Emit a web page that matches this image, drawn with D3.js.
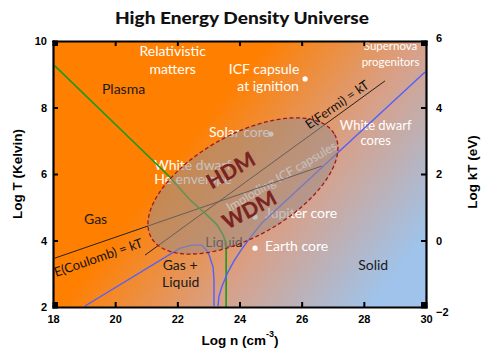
<!DOCTYPE html>
<html><head><meta charset="utf-8">
<script src="https://cdn.jsdelivr.net/npm/d3@7"></script>
<style>
body{margin:0;background:#fff;}
svg{display:block;}
.lab{font-family:Lato,"Open Sans",sans-serif;}
.tick text{font-family:"Liberation Sans",Arial,sans-serif;font-weight:bold;font-size:11px;fill:#000;}
</style></head>
<body><svg id="c" width="500" height="364"></svg>
<script>
// ---- data (log n [cm^-3], log T [K]) ----
const xTicks = [18,20,22,24,26,28,30];
const yTicks = [2,4,6,8,10];
const kTTicks = [-2,0,2,4,6];
const plasmaLine = [[18.06,9.25],[21.76,5.91],[21.86,5.80],[22.41,5.22],[22.95,4.77],[23.28,4.47],[23.47,4.17],[23.57,3.92],[23.57,2.0]];
const gasLiquidLine = [[19.03,2.03],[22.09,3.77],[22.47,3.86],[22.79,3.86],[22.99,3.65],[23.15,3.20],[23.18,2.81],[23.18,2.03]];
const meltingLine = [[23.31,2.03],[23.34,2.33],[23.44,2.63],[23.63,3.05],[23.82,3.38],[24.05,3.71],[24.34,4.08],[24.72,4.53],[29.97,9.07]];
const coulombLine = [[18.06,3.47],[26.65,6.24]];
const fermiLine = [[20.96,3.56],[28.68,8.80]];
const ellipseCenter = [24.11,5.64];
const ellipseMajor = [2.95,1.55];
const ellipseMinor = [0.80,-1.34];
const objects = [
  {name:"ICF capsule at ignition", x:26.11, y:8.86},
  {name:"Solar core", x:25.01, y:7.20},
  {name:"Jupiter core", x:24.50, y:4.71},
  {name:"Earth core", x:24.50, y:3.77}
];
// text annotations anchored at (log n, log T)
const whiteLabels = [
  {t:"Relativistic", x:21.85, y:9.55}, {t:"matters", x:21.85, y:9.0},
  {t:"ICF capsule", x:24.79, y:9.0}, {t:"at ignition", x:24.92, y:8.5},
  {t:"White dwarf", x:28.38, y:7.33, fs:13}, {t:"cores", x:28.38, y:6.87, fs:13},
  {t:"White dwarf", x:22.5, y:6.12}, {t:"He envelope", x:22.5, y:5.7},
  {t:"Jupiter core", x:24.82, y:4.67, a:"start"}, {t:"Earth core", x:24.82, y:3.67, a:"start"},
  {t:"Solar core", x:23.02, y:7.12, a:"start"}
];
const smallWhite = [{t:"Supernova", x:28.86, y:9.72}, {t:"progenitors", x:28.86, y:9.26}];
const darkLabels = [
  {t:"Plasma", x:20.27, y:8.4}, {t:"Gas", x:19.37, y:4.49},
  {t:"Gas +", x:22.09, y:3.11}, {t:"Liquid", x:22.11, y:2.6},
  {t:"Solid", x:28.3, y:3.11}
];
const liquidLabel = {t:"Liquid", x:22.9, y:3.8};

// ---- layout ----
const svg = d3.select("#c");
const x = d3.scaleLinear().domain([18,30]).range([53,426]);
const y = d3.scaleLinear().domain([2,10]).range([307,41]);
const yk = d3.scaleLinear().domain([-2,6]).range([307,41]);
const line = d3.line().x(d=>x(d[0])).y(d=>y(d[1]));

const defs = svg.append("defs");
const g = defs.append("linearGradient").attr("id","bg").attr("gradientUnits","userSpaceOnUse")
  .attr("x1",185).attr("y1",145).attr("x2",378).attr("y2",296);
g.append("stop").attr("offset",0).attr("stop-color","#ff7f00");
g.append("stop").attr("offset",0.5).attr("stop-color","#d8a088");
g.append("stop").attr("offset",1).attr("stop-color","#9fc3ea");
defs.append("clipPath").attr("id","clip").append("rect")
  .attr("x",x(18)).attr("y",y(10)).attr("width",x(30)-x(18)).attr("height",y(2)-y(10));

svg.append("rect").attr("x",x(18)).attr("y",y(10)).attr("width",x(30)-x(18)).attr("height",y(2)-y(10)).attr("fill","url(#bg)");

const P = svg.append("g").attr("clip-path","url(#clip)");

// texts under the ellipse
const F = "Lato, 'Open Sans', sans-serif";
P.selectAll(".wl").data(whiteLabels).join("text").attr("class","lab")
  .attr("x",d=>x(d.x)).attr("y",d=>y(d.y)).attr("text-anchor",d=>d.a||"middle")
  .attr("font-size",d=>d.fs||14).attr("fill","#fff").text(d=>d.t);
P.selectAll(".sw").data(smallWhite).join("text").attr("class","lab")
  .attr("x",d=>x(d.x)).attr("y",d=>y(d.y)).attr("text-anchor","middle")
  .attr("font-size",11.5).attr("fill","#fff").text(d=>d.t);
P.selectAll(".dl").data(darkLabels).join("text").attr("class","lab")
  .attr("x",d=>x(d.x)).attr("y",d=>y(d.y)).attr("text-anchor","middle")
  .attr("font-size",14).attr("fill","#1a1a1a").text(d=>d.t);
P.append("text").attr("class","lab").attr("x",x(liquidLabel.x)).attr("y",y(liquidLabel.y))
  .attr("font-size",14).attr("fill","#2a2a2a").text(liquidLabel.t);
P.selectAll(".obj").data(objects).join("circle")
  .attr("cx",d=>x(d.x)).attr("cy",d=>y(d.y)).attr("r",2.6).attr("fill","#fff");

// rotated texts
function rotText(t, px, py, ang, opts){
  P.append("text").attr("class","lab").attr("transform",`translate(${px},${py}) rotate(${ang})`)
    .attr("text-anchor","middle").attr("dominant-baseline","central")
    .attr("font-size",opts.fs).attr("font-weight",opts.fw||"normal").attr("fill",opts.fill).text(t);
}
rotText("Imploding ICF capsules", x(25.35), y(5.93), -30.5, {fs:12.5, fill:"#ffffff"});

// lines
P.append("path").attr("d",line(coulombLine)).attr("fill","none").attr("stroke","#222").attr("stroke-width",1);
P.append("path").attr("d",line(fermiLine)).attr("fill","none").attr("stroke","#222").attr("stroke-width",1);
P.append("path").attr("d",line(plasmaLine)).attr("fill","none").attr("stroke","#1a9a1a").attr("stroke-width",1.6);
P.append("path").attr("d",line(gasLiquidLine)).attr("fill","none").attr("stroke","#5060ff").attr("stroke-width",1.4);
P.append("path").attr("d",line(meltingLine)).attr("fill","none").attr("stroke","#5060ff").attr("stroke-width",1.4);

// ellipse from its data-space axes
const ell = d3.range(0,361,3).map(a=>{const t=a*Math.PI/180;
  return [ellipseCenter[0]+Math.cos(t)*ellipseMajor[0]+Math.sin(t)*ellipseMinor[0],
          ellipseCenter[1]+Math.cos(t)*ellipseMajor[1]+Math.sin(t)*ellipseMinor[1]];});
P.append("path").attr("d",line(ell)+"Z").attr("fill","#9a8e8a").attr("fill-opacity",0.55)
  .attr("stroke","#a01818").attr("stroke-width",1.3).attr("stroke-dasharray","4,2.5");

rotText("HDM", x(23.7), y(6.14), -30, {fs:21, fw:900, fill:"#7a2424"});
rotText("WDM", x(24.3), y(4.95), -28, {fs:21, fw:900, fill:"#7a2424"});
rotText("E(Fermi) = kT", x(27.13), y(8.1), -35, {fs:13, fill:"#111"});
rotText("E(Coulomb) = kT", x(19.45), y(3.5), -19, {fs:13, fill:"#111"});

// axes
function styleAxis(s){ s.select(".domain").attr("stroke","#000").attr("stroke-width",2.2);
  s.selectAll(".tick line").attr("stroke","#000").attr("stroke-width",2); }
svg.append("g").attr("transform",`translate(0,${y(2)})`)
  .call(d3.axisBottom(x).tickValues(xTicks).tickSize(-5).tickPadding(8).tickSizeOuter(0)).call(styleAxis);
svg.append("g").attr("transform",`translate(0,${y(10)})`)
  .call(d3.axisTop(x).tickValues(xTicks).tickSize(-5).tickFormat("").tickSizeOuter(0)).call(styleAxis);
svg.append("g").attr("transform",`translate(${x(18)},0)`)
  .call(d3.axisLeft(y).tickValues(yTicks).tickSize(-5).tickPadding(6).tickSizeOuter(0)).call(styleAxis);
const ra = svg.append("g").attr("transform",`translate(${x(30)},0)`)
  .call(d3.axisRight(yk).tickValues(kTTicks).tickSize(-5).tickPadding(10).tickSizeOuter(0)).call(styleAxis);
ra.selectAll(".tick text").attr("dy",(d)=> d===6?"0.0em": d===-2?"0.75em":"0.32em");
svg.selectAll(".domain").attr("stroke-linecap","square");

// corner squares
[[x(18),y(10)],[x(30)-5,y(10)],[x(18),y(2)-5],[x(30)-5,y(2)-5]].forEach(c=>
  svg.append("rect").attr("x",c[0]).attr("y",c[1]).attr("width",5).attr("height",5).attr("fill","#000"));

// titles
svg.append("text").attr("x",242).attr("y",24).attr("text-anchor","middle")
  .attr("font-family",F).attr("font-weight",900).attr("font-size",17.5).attr("fill","#111")
  .attr("textLength",254).attr("lengthAdjust","spacingAndGlyphs")
  .text("High Energy Density Universe");
const xl = svg.append("text").attr("x",240).attr("y",345).attr("text-anchor","middle")
  .attr("font-family","'Liberation Sans',Arial,sans-serif").attr("font-weight","bold").attr("font-size",13.5);
xl.append("tspan").text("Log n (cm");
xl.append("tspan").attr("dy",-8).attr("font-size",9).text("-3");
xl.append("tspan").attr("dy",8).text(")");
svg.append("text").attr("transform","translate(22,174) rotate(-90)").attr("text-anchor","middle")
  .attr("font-family","'Liberation Sans',Arial,sans-serif").attr("font-weight","bold").attr("font-size",13.5)
  .text("Log T (Kelvin)");
svg.append("text").attr("transform","translate(477,172) rotate(-90)").attr("text-anchor","middle")
  .attr("font-family","'Liberation Sans',Arial,sans-serif").attr("font-weight","bold").attr("font-size",13.5)
  .text("Log kT (eV)");
</script></body></html>
